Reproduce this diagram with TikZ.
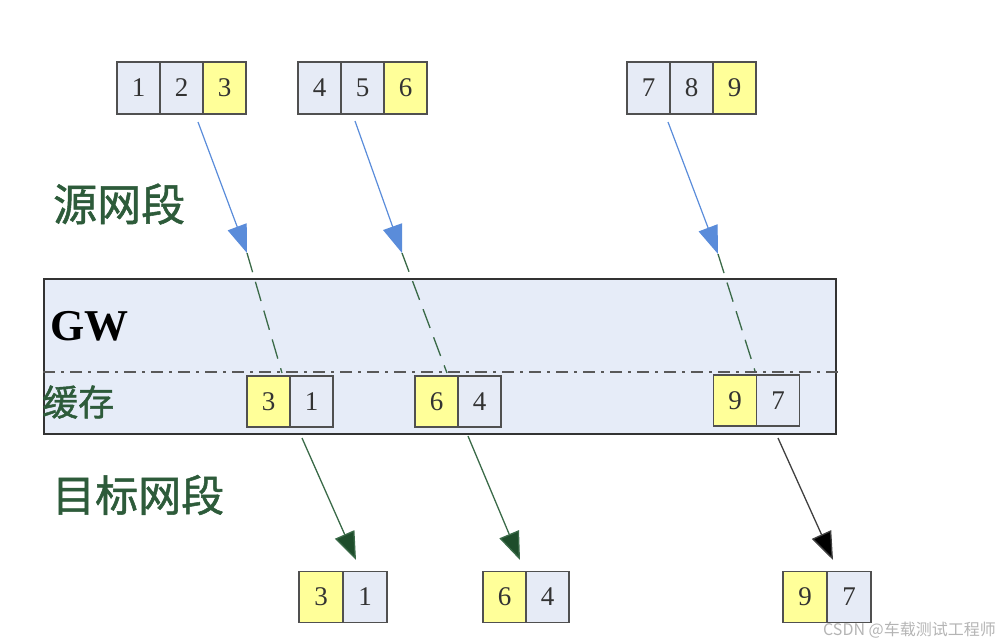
\documentclass[tikz,border=0pt]{standalone}
\usepackage{fontspec}
\setmainfont{Liberation Serif}
\newfontfamily\cjk[FakeBold=1.2]{Noto Sans CJK SC}
\newfontfamily\cjkwm{Noto Sans CJK SC}
\usetikzlibrary{arrows.meta}
\definecolor{cellblue}{HTML}{E6EBF6}
\definecolor{cellyellow}{HTML}{FFFF99}
\definecolor{cellline}{HTML}{505050}
\definecolor{gwfill}{HTML}{E6ECF8}
\definecolor{labgreen}{HTML}{2D5B3A}
\definecolor{arrblue}{HTML}{5A8CDA}
\definecolor{arrgreen}{HTML}{1E4D2B}
\definecolor{dashgreen}{HTML}{3A6A48}
\definecolor{wmgray}{HTML}{B4B4B4}
\tikzset{
  cell/.style={draw=cellline, line width=1.5pt, minimum width=43, minimum height=52,
    inner sep=0pt, font=\fontsize{27}{30}\selectfont, text=black!80},
  bcell/.style={cell, fill=cellblue},
  ycell/.style={cell, fill=cellyellow},
  inarrow/.style={draw=arrblue, line width=1.2pt,
    -{Triangle[length=28pt,width=20pt,fill=arrblue]}},
  passline/.style={draw=dashgreen, line width=1.3pt, dash pattern=on 20pt off 10pt},
  outarrow/.style={draw=dashgreen, line width=1.3pt,
    -{Triangle[length=28pt,width=21pt,fill=arrgreen]}},
  outarrowk/.style={draw=black!75, line width=1.3pt,
    -{Triangle[length=28pt,width=21pt,fill=black]}},
  cjklab/.style={text=labgreen, inner sep=0pt, anchor=west},
}
\begin{document}
\begin{tikzpicture}[x=1pt,y=-1pt]
\useasboundingbox (0,0) rectangle (1000,638);

% gateway box
\node[draw=black!80, line width=1.5pt, fill=gwfill, minimum width=792, minimum height=155,
  inner sep=0pt, anchor=north west] (gw) at (43,278) {};
\coordinate (dl) at (43,372);
\coordinate (dr) at (842,372);
\draw[draw=black!65, line width=1.5pt, dash pattern=on 12pt off 6pt on 3pt off 6pt] (dl) -- (dr);

% labels
\node[cjklab, font=\cjk\fontsize{44}{50}\selectfont] (src) at (53,204) {源网段};
\node[anchor=base west, inner sep=0pt, font=\fontsize{44}{50}\selectfont\bfseries] (gwl) at (50,340) {GW};
\node[cjklab, font=\cjk\fontsize{36}{42}\selectfont] (buf) at (42,402) {缓存};
\node[cjklab, font=\cjk\fontsize{43}{50}\selectfont] (dst) at (52,495) {目标网段};

% source frames
\node[bcell] (s1) at (138.5,88) {1};
\node[bcell] (s2) at (181.5,88) {2};
\node[ycell] (s3) at (224.5,88) {3};
\node[bcell] (s4) at (319.5,88) {4};
\node[bcell] (s5) at (362.5,88) {5};
\node[ycell] (s6) at (405.5,88) {6};
\node[bcell] (s7) at (648.5,88) {7};
\node[bcell] (s8) at (691.5,88) {8};
\node[ycell] (s9) at (734.5,88) {9};

% waypoints
\coordinate (a1s) at (198,122);
\coordinate (a1t) at (247,253);
\coordinate (a1c) at (282,373);
\coordinate (a1b) at (302,438);
\coordinate (a1e) at (356,560);
\coordinate (a2s) at (355,121);
\coordinate (a2t) at (402,253);
\coordinate (a2c) at (447,373);
\coordinate (a2b) at (468,436);
\coordinate (a2e) at (520,560);
\coordinate (a3s) at (668,122);
\coordinate (a3t) at (718,254);
\coordinate (a3c) at (755,371);
\coordinate (a3b) at (778,438);
\coordinate (a3e) at (833,560);

% incoming arrows
\draw[inarrow] (a1s) -- (a1t);
\draw[inarrow] (a2s) -- (a2t);
\draw[inarrow] (a3s) -- (a3t);
\draw[passline] (a1t) -- (a1c);
\draw[passline] (a2t) -- (a2c);
\draw[passline] (a3t) -- (a3c);

% buffered frames
\node[ycell, minimum height=51] (b3) at (268.5,401.5) {3};
\node[bcell, minimum height=51] (b1) at (311.5,401.5) {1};
\node[ycell, minimum height=51] (b6) at (436.5,401.5) {6};
\node[bcell, minimum height=51] (b4) at (479.5,401.5) {4};
\node[ycell, minimum height=51] (b9) at (735,400.5) {9};
\node[bcell, minimum height=51] (b7) at (778,400.5) {7};

% outgoing arrows
\draw[outarrow] (a1b) -- (a1e);
\draw[outarrow] (a2b) -- (a2e);
\draw[outarrowk] (a3b) -- (a3e);

% destination frames
\node[ycell, minimum width=44, minimum height=51] (d3) at (321,597) {3};
\node[bcell, minimum width=44, minimum height=51] (d1) at (365,597) {1};
\node[ycell, minimum height=51] (d6) at (504.5,597) {6};
\node[bcell, minimum height=51] (d4) at (547.5,597) {4};
\node[ycell, minimum width=44, minimum height=51] (d9) at (805,597) {9};
\node[bcell, minimum width=44, minimum height=51] (d7) at (849,597) {7};

% watermark
\node[anchor=east, inner sep=0pt, text=wmgray, font=\cjkwm\fontsize{16}{18}\selectfont] (wm) at (996,630) {CSDN @车载测试工程师};
\end{tikzpicture}
\end{document}
